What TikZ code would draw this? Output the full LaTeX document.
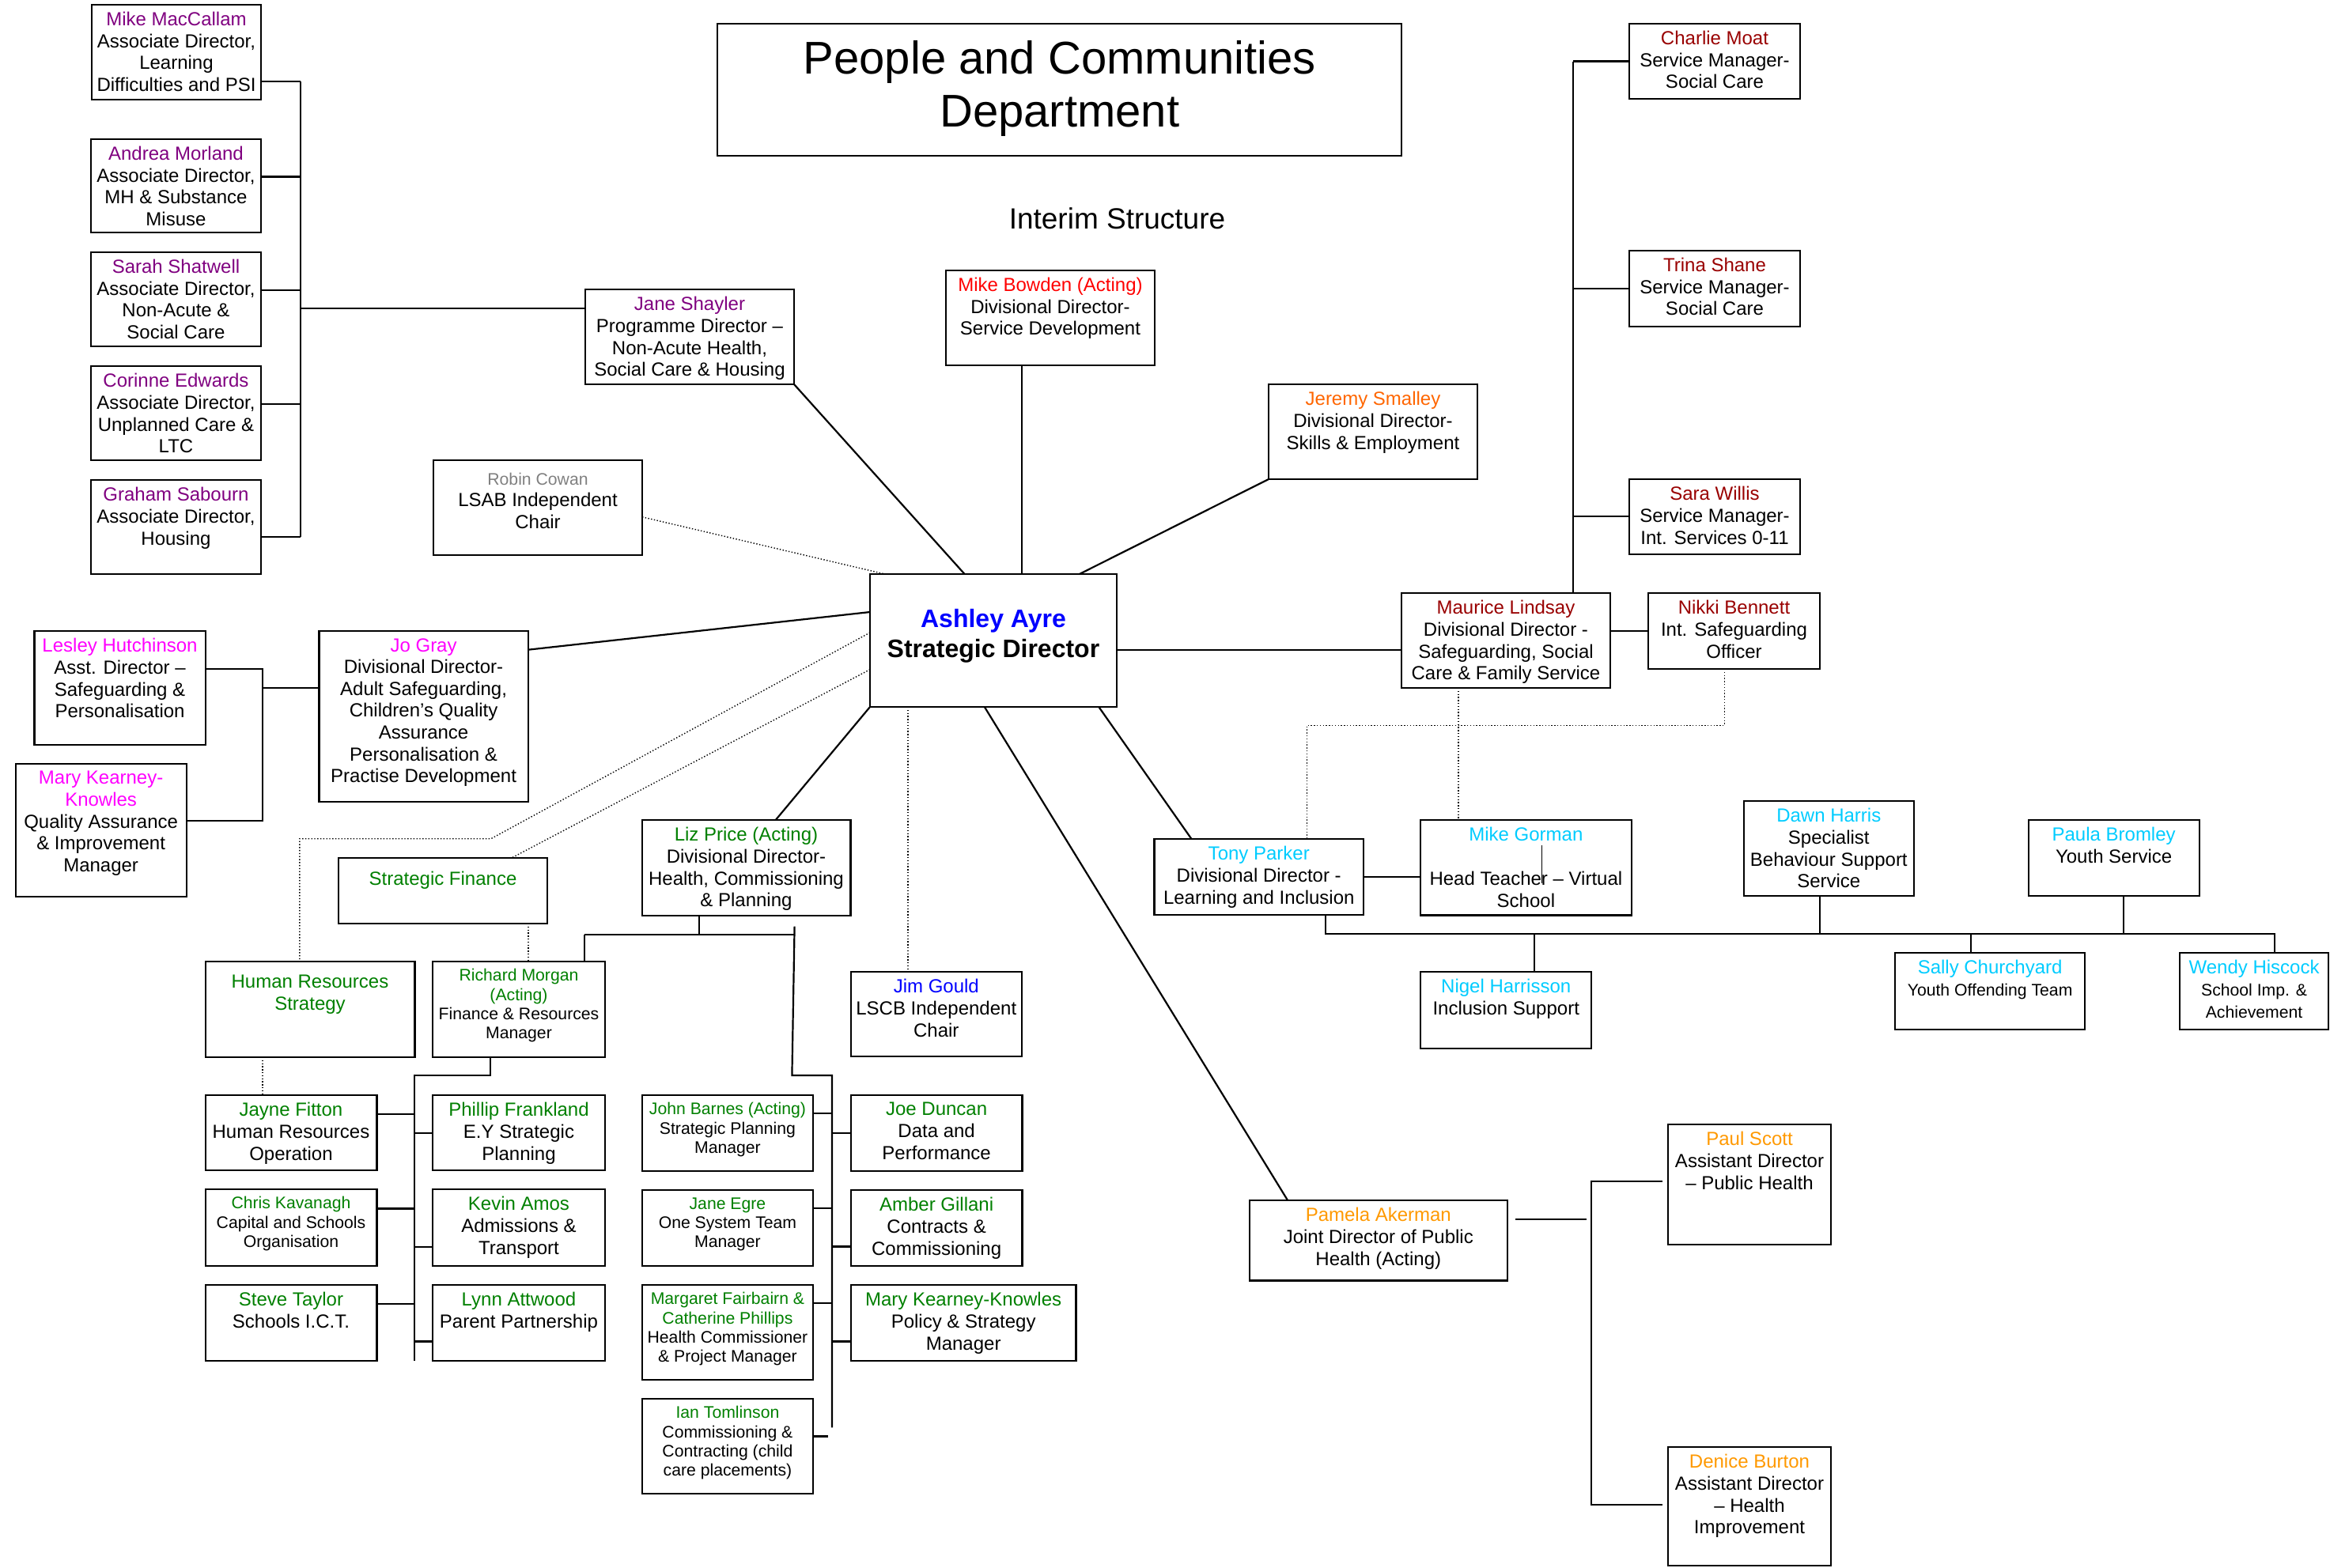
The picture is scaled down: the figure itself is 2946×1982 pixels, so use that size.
\documentclass[tikz,border=0pt]{standalone}
\usepackage{fontspec}
\setmainfont{Liberation Sans}
\usetikzlibrary{fit,calc}
\definecolor{cpur}{RGB}{128,0,128}
\definecolor{cmag}{RGB}{255,0,255}
\definecolor{cred}{RGB}{255,0,0}
\definecolor{corg}{RGB}{255,102,0}
\definecolor{corgb}{RGB}{255,153,0}
\definecolor{cdrd}{RGB}{153,0,0}
\definecolor{cgry}{RGB}{128,128,128}
\definecolor{cblu}{RGB}{0,0,255}
\definecolor{cgrn}{RGB}{0,128,0}
\definecolor{ccyn}{RGB}{0,204,255}
\newcommand{\fN}{\fontsize{12}{13.8}\selectfont}
\newcommand{\fS}{\fontsize{10.6}{12.2}\selectfont}
\newcommand{\nm}[2]{{\color{#1}#2}}
\newcommand{\OB}[8][9]{%
  \node[obox, fit={(#3,#4) (#5,#6)}] (#2) {};
  \node[otext, font=#7] (#2-t) at ($(#2.north)+(0,#1)$) {#8};}
\tikzset{
  obox/.style={draw, line width=1.1pt, inner sep=0pt, outer sep=0pt, rectangle},
  otext/.style={anchor=north, align=center, inner sep=0pt},
  conn/.style={line width=1.1pt},
  dotconn/.style={line width=0.7pt, dash pattern=on 0.7pt off 1.2pt},
}
\begin{document}
\begin{tikzpicture}[x=0.5pt,y=-0.5pt]
\useasboundingbox (0,0) rectangle (2946,1982);
\fill[white] (0,0) rectangle (2946,1982);

% title
\node[obox, fit={(907,30) (1772,197)}] (title) {};
\node[anchor=base, inner sep=0pt, font=\fontsize{29}{33.5}\selectfont] (title-t1) at (1339.8,93.3) {People and Communities};
\node[anchor=base, inner sep=0pt, font=\fontsize{29}{33.5}\selectfont] (title-t2) at (1339.8,160.2) {Department};
\node[anchor=base, inner sep=0pt, font=\fontsize{18.5}{22}\selectfont] (interim) at (1412.5,289.4) {Interim Structure};

% central
\node[obox, line width=1.4pt, fit={(1100,726) (1412,894)}] (ashley) {};
\node[anchor=base, inner sep=0pt, font=\fontsize{16}{19}\selectfont\bfseries, text=cblu] (ashley-t1) at (1256,793.8) {Ashley Ayre};
\node[anchor=base, inner sep=0pt, font=\fontsize{16}{19}\selectfont\bfseries] (ashley-t2) at (1256,831.3) {Strategic Director};

% left column
\OB{mike}{116}{6}{330}{126}{\fN}{\nm{cpur}{Mike MacCallam}\\Associate Director,\\Learning\\Difficulties and PSI}
\OB{andrea}{115}{176}{330}{294}{\fN}{\nm{cpur}{Andrea Morland}\\Associate Director,\\MH \& Substance\\Misuse}
\OB{sarah}{115}{319}{330}{438}{\fN}{\nm{cpur}{Sarah Shatwell}\\Associate Director,\\Non-Acute \&\\Social Care}
\OB{corinne}{115}{463}{330}{582}{\fN}{\nm{cpur}{Corinne Edwards}\\Associate Director,\\Unplanned Care \&\\LTC}
\OB{graham}{115}{607}{330}{726}{\fN}{\nm{cpur}{Graham Sabourn}\\Associate Director,\\Housing}
\OB{jane}{740}{366}{1004}{486}{\fN}{\nm{cpur}{Jane Shayler}\\Programme Director –\\Non-Acute Health,\\Social Care \& Housing}
\OB[15.4]{robin}{548}{582}{812}{702}{\fN}{{\fS\color{cgry}Robin Cowan}\\LSAB Independent\\Chair}
\OB{bowden}{1196}{342}{1460}{462}{\fN}{\nm{cred}{Mike Bowden (Acting)}\\Divisional Director-\\Service Development}
\OB{jeremy}{1604}{486}{1868}{606}{\fN}{\nm{corg}{Jeremy Smalley}\\Divisional Director-\\Skills \& Employment}

% right top
\OB{charlie}{2060}{30}{2276}{125}{\fN}{\nm{cdrd}{Charlie Moat}\\Service Manager-\\Social Care}
\OB{trina}{2060}{317}{2276}{413}{\fN}{\nm{cdrd}{Trina Shane}\\Service Manager-\\Social Care}
\OB{sara}{2060}{606}{2276}{701}{\fN}{\nm{cdrd}{Sara Willis}\\Service Manager-\\Int. Services 0-11}
\OB{maurice}{1772}{750}{2036}{870}{\fN}{\nm{cdrd}{Maurice Lindsay}\\Divisional Director -\\Safeguarding, Social\\Care \& Family Service}
\OB{nikki}{2084}{750}{2301}{846}{\fN}{\nm{cdrd}{Nikki Bennett}\\Int. Safeguarding\\Officer}

% left middle
\OB{lesley}{43.5}{798}{259.6}{942}{\fN}{\nm{cmag}{Lesley Hutchinson}\\Asst. Director –\\Safeguarding \&\\Personalisation}
\OB{marykk1}{19.6}{966}{235.7}{1134}{\fN}{\nm{cmag}{Mary Kearney-}\\\nm{cmag}{Knowles}\\Quality Assurance\\\& Improvement\\Manager}
\OB{jo}{403.4}{798}{667.8}{1014}{\fN}{\nm{cmag}{Jo Gray}\\Divisional Director-\\Adult Safeguarding,\\Children’s Quality\\Assurance\\Personalisation \&\\Practise Development}
\OB[16.4]{stratfin}{428}{1085}{692}{1168}{\fN}{\nm{cgrn}{Strategic Finance}}
\OB{liz}{811.6}{1037}{1075.4}{1158}{\fN}{\nm{cgrn}{Liz Price (Acting)}\\Divisional Director-\\Health, Commissioning\\\& Planning}

% bottom left
\OB[17]{hrstrat}{259.6}{1216}{524.4}{1337}{\fN}{\nm{cgrn}{Human Resources}\\\nm{cgrn}{Strategy}}
\OB{richard}{547.3}{1216}{764.7}{1337}{\fS}{\nm{cgrn}{Richard Morgan}\\\nm{cgrn}{(Acting)}\\Finance \& Resources\\Manager}
\OB{jayne}{259.6}{1385}{476.4}{1480}{\fN}{\nm{cgrn}{Jayne Fitton}\\Human Resources\\Operation}
\OB{chris}{259.6}{1504}{476.4}{1601}{\fS}{\nm{cgrn}{Chris Kavanagh}\\Capital and Schools\\Organisation}
\OB{steve}{259.6}{1625}{476.4}{1721}{\fN}{\nm{cgrn}{Steve Taylor}\\Schools I.C.T.}
\OB{phillip}{547.3}{1385}{764.7}{1480}{\fN}{\nm{cgrn}{Phillip Frankland}\\E.Y Strategic\\Planning}
\OB{kevin}{547.3}{1504}{764.7}{1601}{\fN}{\nm{cgrn}{Kevin Amos}\\Admissions \&\\Transport}
\OB{lynn}{547.3}{1625}{764.7}{1721}{\fN}{\nm{cgrn}{Lynn Attwood}\\Parent Partnership}
\OB{john}{811.6}{1385}{1028.3}{1481}{\fS}{\nm{cgrn}{John Barnes (Acting)}\\Strategic Planning\\Manager}
\OB{janeegre}{811.6}{1505}{1028.3}{1601}{\fS}{\nm{cgrn}{Jane Egre}\\One System Team\\Manager}
\OB{margaret}{811.6}{1625}{1028.3}{1745}{\fS}{\nm{cgrn}{Margaret Fairbairn \&}\\\nm{cgrn}{Catherine Phillips}\\Health Commissioner\\\& Project Manager}
\OB{ian}{811.6}{1769}{1028.3}{1889}{\fS}{\nm{cgrn}{Ian Tomlinson}\\Commissioning \&\\Contracting (child\\care placements)}
\OB{joe}{1075.8}{1385}{1292.5}{1481}{\fN}{\nm{cgrn}{Joe Duncan}\\Data and\\Performance}
\OB{amber}{1075.8}{1505}{1292.5}{1601}{\fN}{\nm{cgrn}{Amber Gillani}\\Contracts \&\\Commissioning}
\OB{marykk2}{1075.8}{1625}{1360.5}{1721}{\fN}{\nm{cgrn}{Mary Kearney-Knowles}\\Policy \& Strategy\\Manager}
\OB{jim}{1075.8}{1229}{1291.8}{1336}{\fN}{\nm{cblu}{Jim Gould}\\LSCB Independent\\Chair}

% right middle
\OB{tony}{1459.5}{1061}{1724}{1157}{\fN}{\nm{ccyn}{Tony Parker}\\Divisional Director -\\Learning and Inclusion}
\OB{gorman}{1796.2}{1037}{2062.6}{1157.5}{\fN}{\nm{ccyn}{Mike Gorman}\\[14pt]Head Teacher – Virtual\\School}
\OB{dawn}{2204.6}{1013}{2420}{1133}{\fN}{\nm{ccyn}{Dawn Harris}\\Specialist\\Behaviour Support\\Service}
\OB{paula}{2564.6}{1037}{2780.7}{1133}{\fN}{\nm{ccyn}{Paula Bromley}\\Youth Service}
\OB{nigel}{1796.2}{1229}{2012.3}{1326}{\fN}{\nm{ccyn}{Nigel Harrisson}\\Inclusion Support}
\OB{sally}{2396.1}{1205}{2636.1}{1302}{\fN}{\nm{ccyn}{Sally Churchyard}\\{\fS Youth Offending Team}}
\OB{wendy}{2756.1}{1205}{2944}{1302}{\fN}{\nm{ccyn}{Wendy Hiscock}\\{\fS School Imp. \&}\\{\fS Achievement}}

% public health
\OB{pamela}{1580}{1518}{1905.6}{1619.4}{\fN}{\nm{corgb}{Pamela Akerman}\\Joint Director of Public\\Health (Acting)}
\OB{paul}{2108.7}{1422}{2315.3}{1574}{\fN}{\nm{corgb}{Paul Scott}\\Assistant Director\\– Public Health}
\OB{denice}{2108.7}{1830}{2315.3}{1980}{\fN}{\nm{corgb}{Denice Burton}\\Assistant Director\\– Health\\Improvement}

% ---------- connectors ----------
% left column bus
\coordinate (LB1) at (379.7,102.8);
\coordinate (LB2) at (379.7,223.4);
\coordinate (LB3) at (379.7,367.3);
\coordinate (LBJ) at (379.7,389.8);
\coordinate (LB4) at (379.7,511.3);
\coordinate (LB5) at (379.7,679.2);
\draw[conn] (LB1) -- (LB5);
\draw[conn] (mike.east |- LB1) -- (LB1);
\draw[conn] (andrea.east |- LB2) -- (LB2);
\draw[conn] (sarah.east |- LB3) -- (LB3);
\draw[conn] (corinne.east |- LB4) -- (LB4);
\draw[conn] (graham.east |- LB5) -- (LB5);
\draw[conn] (LBJ) -- (jane.west |- LBJ);

% around Ashley
\coordinate (xJane) at (1219.6,0);
\draw[conn] (jane.south east) -- (ashley.north -| xJane);
\coordinate (xBow) at (1292,0);
\draw[conn] (bowden.south -| xBow) -- (ashley.north -| xBow);
\coordinate (xJer) at (1364.8,0);
\draw[conn] (jeremy.south west) -- (ashley.north -| xJer);
\coordinate (yRob) at (0,653.8);
\coordinate (xRob) at (1119,0);
\draw[dotconn] (robin.east |- yRob) -- (ashley.north -| xRob);
\coordinate (yJo1) at (0,821.7);
\coordinate (yJo2) at (0,774);
\draw[conn] (jo.east |- yJo1) -- (ashley.west |- yJo2);
\coordinate (yHR) at (0,800);
\coordinate (HRa) at (620.8,1060.7);
\coordinate (HRb) at (378.8,1060.7);
\draw[dotconn] (ashley.west |- yHR) -- (HRa) -- (HRb) -- (hrstrat.north -| HRb);
\coordinate (ySF) at (0,846.7);
\coordinate (xSF) at (646.8,0);
\draw[dotconn] (ashley.west |- ySF) -- (stratfin.north -| xSF);
\coordinate (xLiz) at (980.7,0);
\draw[conn] (ashley.south west) -- (liz.north -| xLiz);
\coordinate (xJim) at (1148,0);
\draw[dotconn] (ashley.south -| xJim) -- (jim.north -| xJim);
\coordinate (xPa1) at (1244.8,0);
\coordinate (xPa2) at (1628.1,0);
\draw[conn] (ashley.south -| xPa1) -- (pamela.north -| xPa2);
\coordinate (xTo1) at (1389.3,0);
\coordinate (xTo2) at (1506.5,0);
\draw[conn] (ashley.south -| xTo1) -- (tony.north -| xTo2);
\coordinate (yMa) at (0,821.7);
\draw[conn] (ashley.east |- yMa) -- (maurice.west |- yMa);

% right top bus
\coordinate (RB1) at (1988.8,77.5);
\coordinate (RB2) at (1988.8,365);
\coordinate (RB3) at (1988.8,653.2);
\draw[conn] (RB1) -- (maurice.north -| RB1);
\draw[conn] (RB1) -- (charlie.west |- RB1);
\draw[conn] (RB2) -- (trina.west |- RB2);
\draw[conn] (RB3) -- (sara.west |- RB3);
\coordinate (yMN) at (0,797.8);
\draw[conn] (maurice.east |- yMN) -- (nikki.west |- yMN);
\coordinate (xMG) at (1843.9,0);
\draw[dotconn] (maurice.south -| xMG) -- (gorman.north -| xMG);
\coordinate (NK1) at (2180.2,917.4);
\coordinate (NK2) at (1652.4,917.4);
\draw[dotconn] (nikki.south -| NK1) -- (NK1) -- (NK2) -- (tony.north -| NK2);

% Tony group
\coordinate (yTG) at (0,1108.7);
\draw[conn] (tony.east |- yTG) -- (gorman.west |- yTG);
\coordinate (G1) at (1949.8,1069.3);
\coordinate (G2) at (1949.8,1117);
\draw[line width=0.6pt] (G1) -- (G2);
\coordinate (TB0) at (1675.6,1181);
\coordinate (TBe) at (2876.1,1181);
\draw[conn] (tony.south -| TB0) -- (TB0) -- (TBe) -- (wendy.north -| TBe);
\coordinate (TBn) at (1940,1181);
\draw[conn] (TBn) -- (nigel.north -| TBn);
\coordinate (TBd) at (2300.8,1181);
\draw[conn] (dawn.south -| TBd) -- (TBd);
\coordinate (TBp) at (2684.6,1181);
\draw[conn] (paula.south -| TBp) -- (TBp);
\coordinate (TBs) at (2492.3,1181);
\draw[conn] (TBs) -- (sally.north -| TBs);

% Lesley / Mary / Jo
\coordinate (LM1) at (331.8,845.7);
\coordinate (LM2) at (331.8,1037.7);
\coordinate (LM3) at (331.8,870);
\draw[conn] (lesley.east |- LM1) -- (LM1) -- (LM2) -- (marykk1.east |- LM2);
\draw[conn] (LM3) -- (jo.west |- LM3);

% Liz group
\coordinate (LZ0) at (883.9,1181.7);
\coordinate (LZl) at (739.2,1181.7);
\coordinate (LZr) at (1004.6,1181.7);
\draw[conn] (liz.south -| LZ0) -- (LZ0);
\draw[conn] (LZl) -- (LZr);
\draw[conn] (LZl) -- (richard.north -| LZl);
\coordinate (LZt) at (1004.6,1171.7);
\coordinate (LZb) at (1001.4,1360);
\coordinate (LBb) at (1052,1360);
\coordinate (LBe) at (1052,1805.4);
\draw[conn] (LZt) -- (LZb) -- (LBb) -- (LBe);
\coordinate (yJB) at (0,1407.9);
\coordinate (yJE) at (0,1527.9);
\coordinate (yMF) at (0,1648.2);
\draw[conn] (john.east |- yJB) -- (LBe |- yJB);
\draw[conn] (janeegre.east |- yJE) -- (LBe |- yJE);
\draw[conn] (margaret.east |- yMF) -- (LBe |- yMF);
\coordinate (IT) at (1046.5,1816.4);
\draw[conn] (ian.east |- IT) -- (IT);
\coordinate (yJD) at (0,1432.9);
\coordinate (yAG) at (0,1576.4);
\coordinate (yMK) at (0,1696.4);
\draw[conn] (LBe |- yJD) -- (joe.west |- yJD);
\draw[conn] (LBe |- yAG) -- (amber.west |- yAG);
\draw[conn] (LBe |- yMK) -- (marykk2.west |- yMK);

% Richard group
\coordinate (RM0) at (619.8,1360.1);
\coordinate (RM1) at (523.9,1360.1);
\coordinate (RM2) at (523.9,1720.8);
\draw[conn] (richard.south -| RM0) -- (RM0) -- (RM1) -- (RM2);
\coordinate (yJF) at (0,1408.6);
\coordinate (yCK) at (0,1528.4);
\coordinate (yST) at (0,1648.7);
\draw[conn] (jayne.east |- yJF) -- (RM1 |- yJF);
\draw[conn] (chris.east |- yCK) -- (RM1 |- yCK);
\draw[conn] (steve.east |- yST) -- (RM1 |- yST);
\coordinate (yPF) at (0,1432.6);
\coordinate (yKA) at (0,1576.9);
\coordinate (yLA) at (0,1696.4);
\draw[conn] (RM1 |- yPF) -- (phillip.west |- yPF);
\draw[conn] (RM1 |- yKA) -- (kevin.west |- yKA);
\draw[conn] (RM1 |- yLA) -- (lynn.west |- yLA);
\coordinate (xSFd) at (667.8,0);
\draw[dotconn] (stratfin.south -| xSFd) -- (richard.north -| xSFd);
\coordinate (xHRd) at (332,0);
\draw[dotconn] (hrstrat.south -| xHRd) -- (jayne.north -| xHRd);

% Pamela group
\coordinate (PA1) at (1915.8,1541.8);
\coordinate (PA2) at (2005.6,1541.8);
\draw[conn] (PA1) -- (PA2);
\coordinate (PB1) at (2012.2,1493.9);
\coordinate (PB2) at (2012.2,1902.6);
\coordinate (PC1) at (2101.5,1493.9);
\coordinate (PC2) at (2101.5,1902.6);
\draw[conn] (PC1) -- (PB1) -- (PB2) -- (PC2);
\end{tikzpicture}
\end{document}
